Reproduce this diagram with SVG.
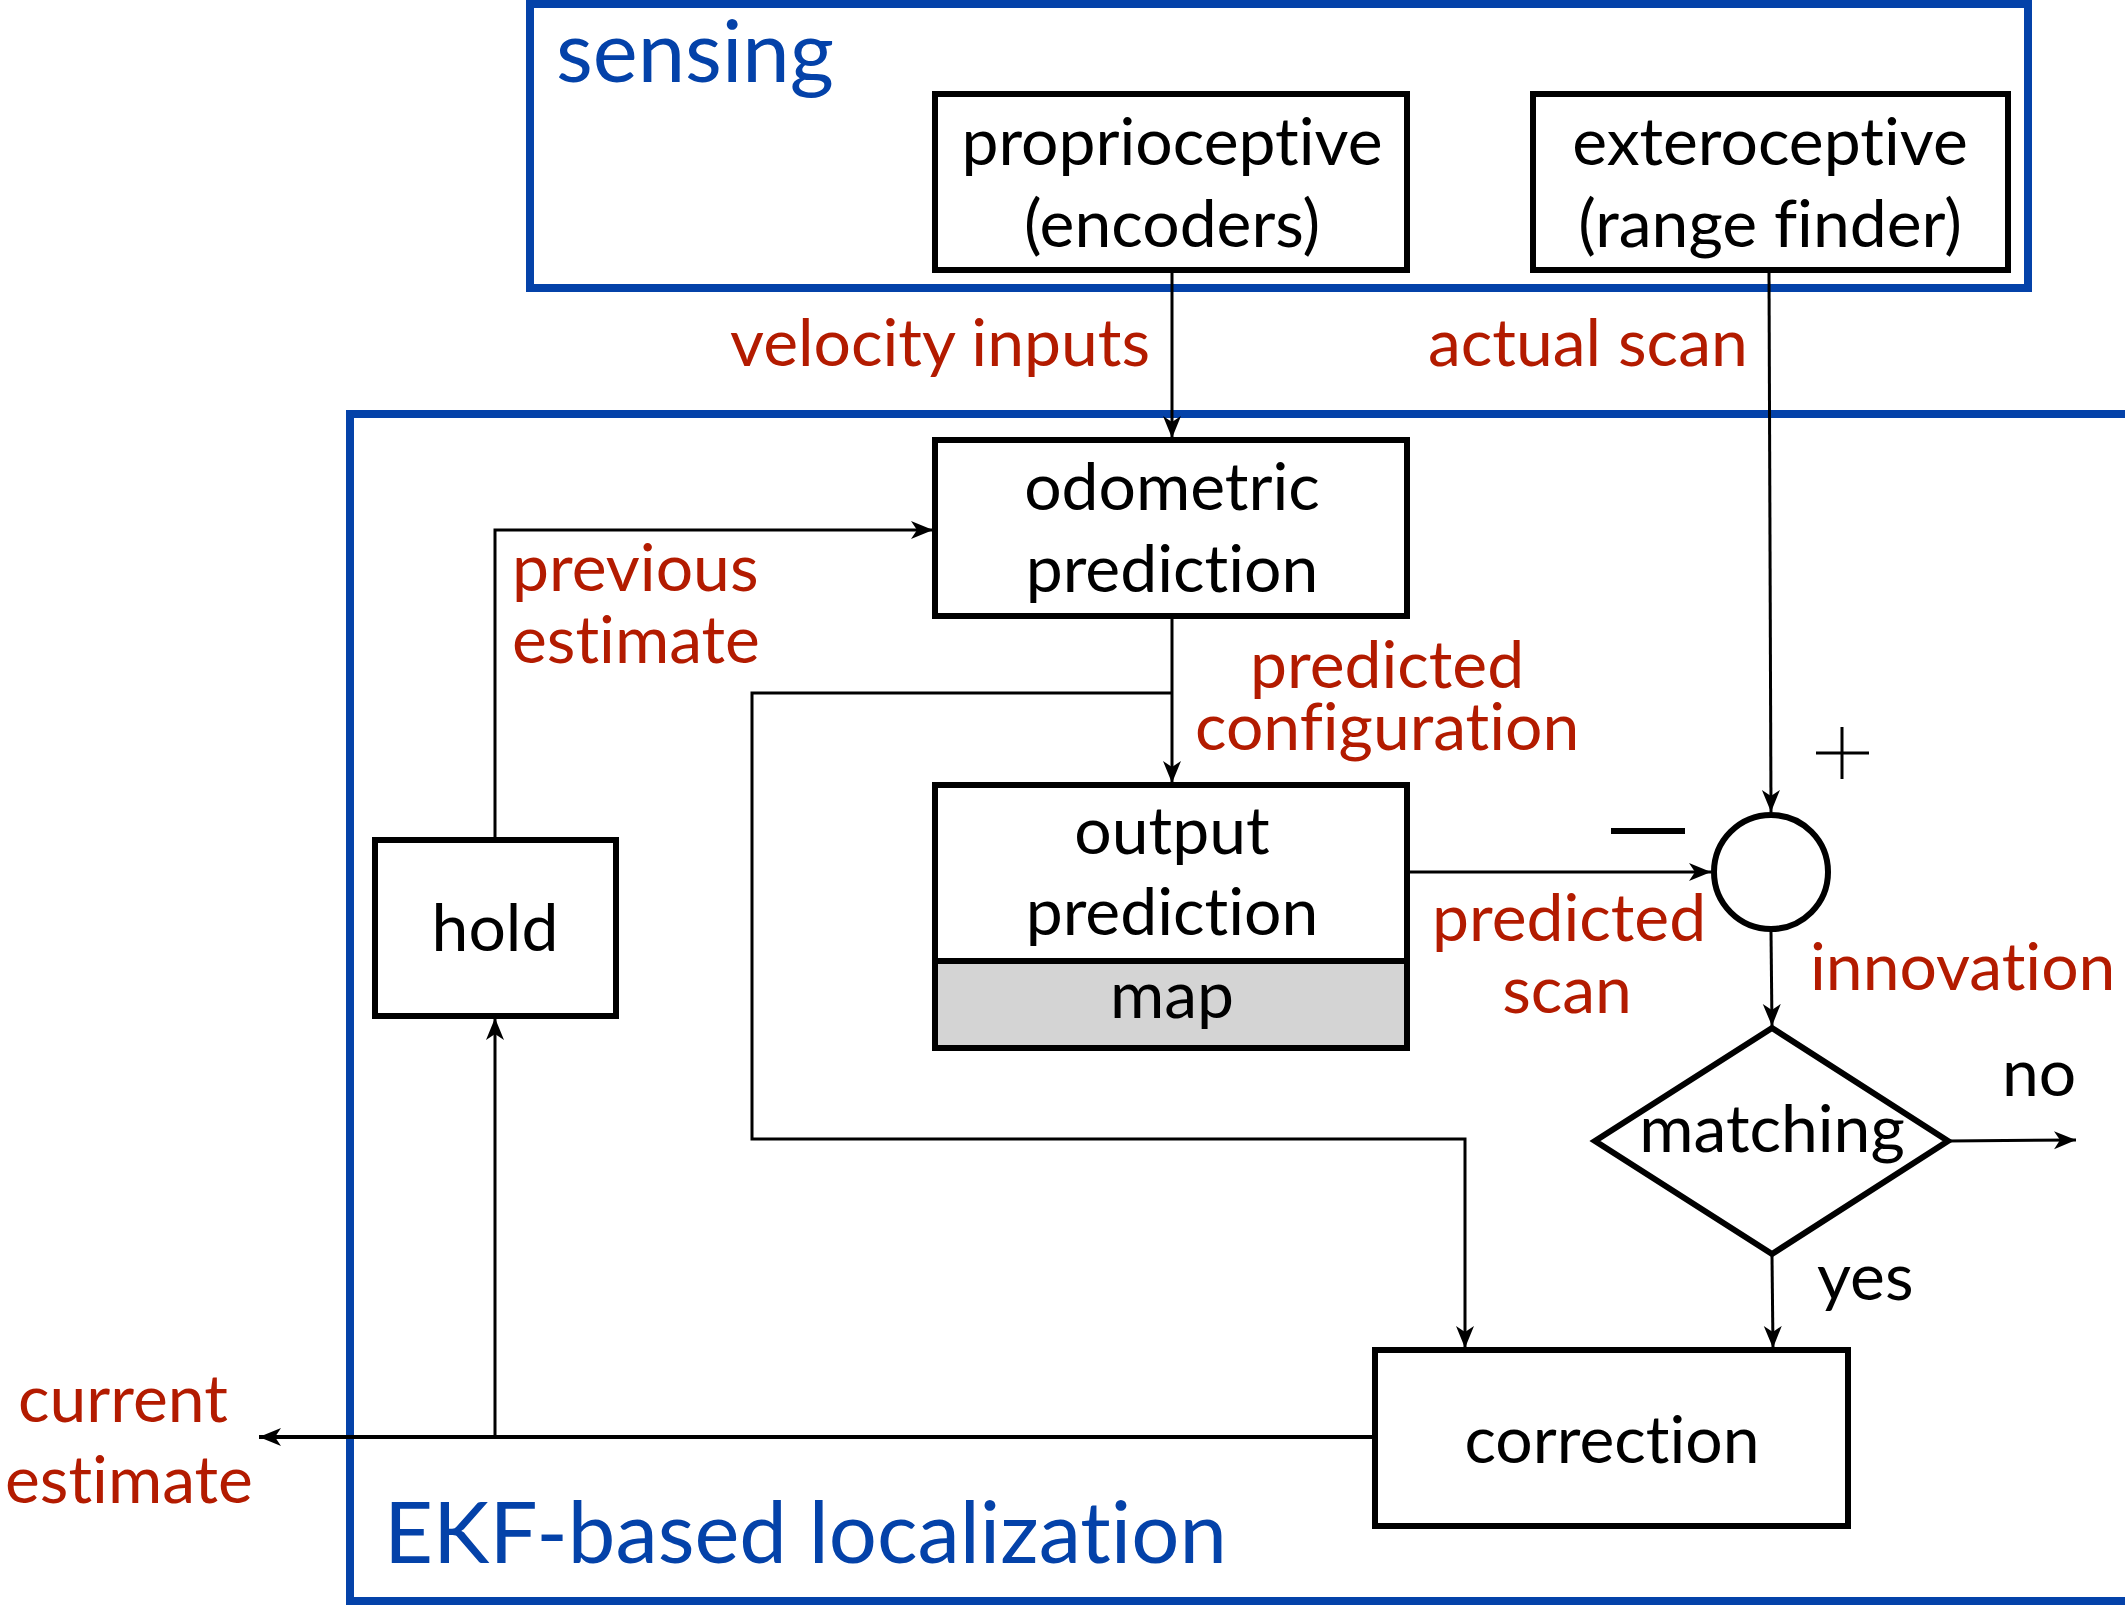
<svg xmlns="http://www.w3.org/2000/svg" width="2125" height="1606" viewBox="0 0 2125 1606">
<style>
text{font-variant-ligatures:none;font-feature-settings:"liga" 0,"clig" 0}
.frame{fill:none;stroke:#0442A9;stroke-width:8}
.box{fill:#fff;stroke:#000;stroke-width:6}
.map{fill:#d4d4d4;stroke:#000;stroke-width:6}
.t{font-family:Lato,"Liberation Sans",sans-serif;font-size:66px;fill:#000}
.m{text-anchor:middle}
.r{font-family:Lato,"Liberation Sans",sans-serif;font-size:66px;fill:#B31B00}
.b{font-family:Lato,"Liberation Sans",sans-serif;font-size:85px;fill:#0442A9}
.c{fill:none;stroke:#000;stroke-width:3}
</style>
<defs>
<marker id="ah" viewBox="-22 -10 24 20" markerWidth="24" markerHeight="20" refX="0" refY="0" orient="auto" markerUnits="userSpaceOnUse">
<path d="M0,0 L-22,-9 L-16,0 L-22,9 Z" fill="#000"/>
</marker>
</defs>
<rect width="2125" height="1606" fill="#fff"/>
<g id="sensing">
<rect class="frame" x="530" y="4" width="1498" height="284"/>
<text class="b" x="556" y="82">sensing</text>
</g>
<g id="ekf">
<rect class="frame" x="350" y="414" width="1780" height="1187"/>
<text class="b" x="384" y="1563">EKF-based localization</text>
</g>
<g id="connectors">
<line class="c" x1="1172" y1="273" x2="1172" y2="438" marker-end="url(#ah)"/>
<line class="c" x1="1769" y1="273" x2="1771" y2="812" marker-end="url(#ah)"/>
<line class="c" x1="1172" y1="619" x2="1172" y2="783" marker-end="url(#ah)"/>
<polyline class="c" points="1172,693 752,693 752,1139 1465,1139 1465,1348" marker-end="url(#ah)"/>
<polyline class="c" points="495,838 495,530 933,530" marker-end="url(#ah)"/>
<line class="c" x1="1410" y1="872" x2="1711" y2="872" marker-end="url(#ah)"/>
<line class="c" x1="1771" y1="931" x2="1772" y2="1026" marker-end="url(#ah)"/>
<line class="c" x1="1948" y1="1141" x2="2076" y2="1140" marker-end="url(#ah)"/>
<line class="c" x1="1772" y1="1256" x2="1773" y2="1348" marker-end="url(#ah)"/>
<line x1="1375" y1="1437" x2="259" y2="1437" stroke="#000" stroke-width="4" marker-end="url(#ah)"/>
<line class="c" x1="495" y1="1437" x2="495" y2="1018" marker-end="url(#ah)"/>
</g>
<g id="proprioceptive">
<rect class="box" x="935" y="94" width="472" height="176"/>
<text class="t m" x="1172" y="165">proprioceptive</text>
<text class="t m" x="1172" y="247">(encoders)</text>
</g>
<g id="exteroceptive">
<rect class="box" x="1533" y="94" width="475" height="176"/>
<text class="t m" x="1770" y="165">exteroceptive</text>
<text class="t m" x="1770" y="247">(range finder)</text>
</g>
<g id="odometric">
<rect class="box" x="935" y="440" width="472" height="176"/>
<text class="t m" x="1172" y="510">odometric</text>
<text class="t m" x="1172" y="592">prediction</text>
</g>
<g id="output">
<rect class="box" x="935" y="785" width="472" height="176"/>
<text class="t m" x="1172" y="854">output</text>
<text class="t m" x="1172" y="935">prediction</text>
</g>
<g id="map">
<rect class="map" x="935" y="961" width="472" height="87"/>
<text class="t m" x="1172" y="1018">map</text>
</g>
<g id="hold">
<rect class="box" x="375" y="840" width="241" height="176"/>
<text class="t m" x="495" y="951">hold</text>
</g>
<g id="correction">
<rect class="box" x="1375" y="1350" width="473" height="176"/>
<text class="t m" x="1612" y="1463">correction</text>
</g>
<g id="sum">
<circle cx="1771" cy="872" r="57" fill="#fff" stroke="#000" stroke-width="6"/>
<path d="M1816,753 H1869 M1842,727 V779" stroke="#000" stroke-width="3"/>
<path d="M1611,831 H1685" stroke="#000" stroke-width="6"/>
</g>
<g id="matching">
<polygon points="1772,1028 1948,1141 1772,1254 1595,1141" fill="#fff" stroke="#000" stroke-width="6"/>
<text class="t m" x="1772" y="1152">matching</text>
</g>
<g id="labels">
<text class="r" x="730" y="366">velocity inputs</text>
<text class="r" x="1428" y="366">actual scan</text>
<text class="r" x="512" y="591">previous</text>
<text class="r" x="512" y="663">estimate</text>
<text class="r" x="1250" y="688">predicted</text>
<text class="r" x="1195" y="750">configuration</text>
<text class="r" x="1432" y="941">predicted</text>
<text class="r m" x="1567" y="1013">scan</text>
<text class="r" x="1810" y="990">innovation</text>
<text class="r" x="18" y="1422">current</text>
<text class="r" x="5" y="1503">estimate</text>
<text class="t" x="2002" y="1096">no</text>
<text class="t" x="1817" y="1300">yes</text>
</g>
</svg>
